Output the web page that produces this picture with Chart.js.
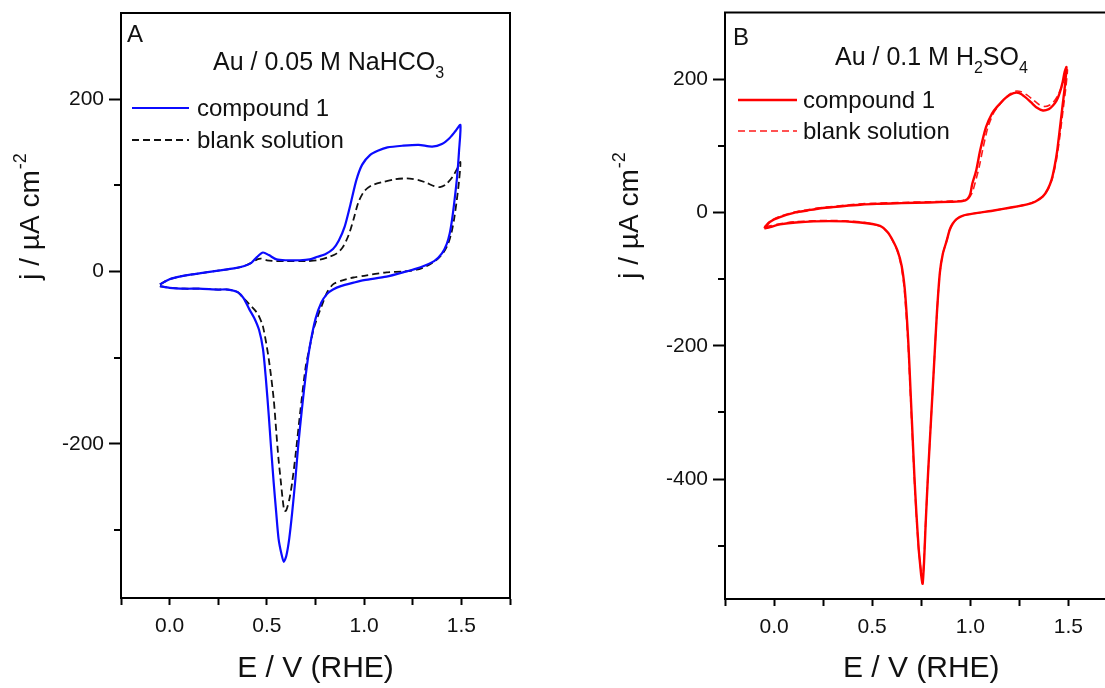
<!DOCTYPE html>
<html>
<head>
<meta charset="utf-8">
<title>Cyclic voltammograms of Au</title>
<script src="https://cdn.jsdelivr.net/npm/chart.js@4.4.1/dist/chart.umd.min.js"></script>
<style>
  html, body { margin: 0; padding: 0; background: #fff; overflow: hidden; width: 1105px; height: 688px; }
  canvas { position: absolute; top: 0; }
  #cvA { left: 0; }
  #cvB { left: 600px; }
</style>
</head>
<body>
<canvas id="cvA" width="530" height="688"></canvas>
<canvas id="cvB" width="540" height="688"></canvas>
<script>
// ---- axis ticks -------------------------------------------------------
const potentialTicks = [-0.25, 0, 0.25, 0.5, 0.75, 1, 1.25, 1.5, 1.75];
const potentialTickLabels = ['', '0.0', '', '0.5', '', '1.0', '', '1.5', ''];
const currentTicksA = [-300, -200, -100, 0, 100, 200];
const currentTickLabelsA = ['', '-200', '', '0', '', '200'];
const currentTicksB = [-500, -400, -300, -200, -100, 0, 100, 200];
const currentTickLabelsB = ['', '-400', '', '-200', '', '0', '', '200'];

const seriesNames = ['compound 1', 'blank solution'];

// ---- panel A: Au / 0.05 M NaHCO3 (E in V vs RHE, j in µA cm-2) --------
const potentialA1 = [
  -0.05, 0.0, 0.05, 0.1, 0.16, 0.25, 0.33, 0.38, 0.42, 0.45, 0.48, 0.51, 0.55, 0.6, 0.67, 0.72, 0.76, 0.8, 0.84,
  0.87, 0.9, 0.93, 0.96, 0.99, 1.03, 1.07, 1.12, 1.2, 1.28, 1.35, 1.4, 1.44, 1.47, 1.495,
  1.488, 1.478, 1.465, 1.452, 1.44, 1.425, 1.4, 1.36, 1.29, 1.2, 1.115, 1.0, 0.945, 0.88, 0.84, 0.81, 0.78, 0.75,
  0.72, 0.70, 0.68, 0.66, 0.647, 0.63, 0.615, 0.6, 0.587, 0.575, 0.56, 0.548, 0.535, 0.52, 0.51, 0.495,
  0.48, 0.46, 0.435, 0.41, 0.38, 0.35, 0.3, 0.25, 0.15, 0.077, 0.0, -0.05
];
const currentA1 = [
  -15, -9, -6, -4, -2, 1, 3.5, 6, 10, 17, 22, 19, 14, 13, 13, 14, 17, 20, 26,
  36, 52, 78, 106, 124, 135, 140, 144, 146, 147, 145, 148, 155, 163, 170,
  140, 110, 83, 60, 44, 32, 21, 12, 5, -1, -6, -10, -13, -17, -21, -26, -36, -55,
  -88, -120, -160, -205, -240, -280, -310, -330, -337, -328, -310, -280, -245, -200, -168, -125,
  -90, -68, -54, -44, -31, -24, -21, -21, -20, -20, -19, -17
];
const potentialA2 = [
  -0.05, 0.0, 0.05, 0.1, 0.16, 0.25, 0.33, 0.38, 0.42, 0.45, 0.47, 0.5, 0.55, 0.6, 0.7, 0.76, 0.82, 0.86,
  0.89, 0.92, 0.945, 0.97, 1.0, 1.04, 1.1, 1.16, 1.22, 1.28, 1.32, 1.36, 1.39, 1.42, 1.455, 1.48, 1.495,
  1.488, 1.476, 1.462, 1.448, 1.43, 1.405, 1.37, 1.32, 1.27, 1.2, 1.115, 1.0, 0.945, 0.88, 0.84, 0.81, 0.79, 0.765,
  0.74, 0.72, 0.70, 0.673, 0.647, 0.63, 0.615, 0.6, 0.59, 0.58, 0.57, 0.56, 0.548, 0.535, 0.51, 0.48,
  0.455, 0.435, 0.41, 0.38, 0.35, 0.3, 0.25, 0.15, 0.077, 0.0, -0.05
];
const currentA2 = [
  -15, -9, -6, -4, -2, 1, 3.5, 6, 10, 14, 15, 13, 12, 12, 12, 13, 17, 21,
  28, 42, 60, 80, 93, 100, 104, 107, 108, 106, 103, 99, 98, 101, 110, 120, 127,
  105, 82, 60, 44, 31, 21, 13, 6, 2, 0, -1, -5, -7, -11, -15, -24, -35, -50,
  -67, -88, -110, -160, -214, -245, -265, -277, -278, -262, -240, -218, -185, -148, -102, -64,
  -50, -44, -38, -31, -24, -21, -21, -20, -20, -19, -17
];

// ---- panel B: Au / 0.1 M H2SO4 ---------------------------------------
const potentialB1 = [
  -0.05, -0.02, 0.03, 0.11, 0.17, 0.23, 0.3, 0.37, 0.45, 0.54, 0.65, 0.79, 0.9, 0.96, 0.985, 1.0, 1.01,
  1.03, 1.05, 1.08, 1.11, 1.135, 1.18, 1.22, 1.25, 1.28, 1.31, 1.34, 1.37, 1.4, 1.42, 1.44, 1.455, 1.47,
  1.48, 1.49,
  1.482, 1.472, 1.462, 1.452, 1.443, 1.43, 1.415, 1.395, 1.37, 1.33, 1.29, 1.2, 1.12, 1.03, 0.96, 0.93, 0.91,
  0.895, 0.88, 0.86, 0.845, 0.83, 0.815, 0.80, 0.785, 0.772, 0.765, 0.757, 0.75, 0.745, 0.737, 0.725,
  0.715, 0.705, 0.695, 0.685, 0.675, 0.665, 0.65, 0.63, 0.605, 0.58, 0.54, 0.44, 0.28, 0.11, 0.03, -0.02, -0.05
];
const currentB1 = [
  -24, -14, -7, 0, 3, 6, 8, 10, 12, 13, 14, 15, 16, 17, 20, 28, 43,
  63, 93, 128, 148, 158, 172, 179, 179, 173, 165, 157, 153, 155, 160, 168, 179, 195,
  210, 218,
  190, 165, 140, 115, 93, 70, 50, 35, 24, 16, 12, 7, 3, -1, -5, -10, -17,
  -26, -42, -62, -90, -150, -230, -310, -390, -470, -520, -557, -545, -530, -505, -450,
  -395, -330, -265, -200, -150, -112, -80, -58, -42, -30, -20, -15, -13, -15, -18, -22, -24
];
const potentialB2 = [
  -0.05, -0.02, 0.03, 0.11, 0.17, 0.23, 0.3, 0.37, 0.45, 0.54, 0.65, 0.79, 0.9, 0.96, 0.99, 1.01, 1.025,
  1.045, 1.065, 1.09, 1.12, 1.15, 1.19, 1.23, 1.26, 1.29, 1.32, 1.35, 1.38, 1.41, 1.43, 1.45, 1.47,
  1.485, 1.495,
  1.487, 1.477, 1.467, 1.457, 1.447, 1.434, 1.418, 1.398, 1.373, 1.333, 1.29, 1.2, 1.12, 1.03, 0.96, 0.93, 0.91,
  0.895, 0.88, 0.86, 0.845, 0.83, 0.815, 0.80, 0.785, 0.772, 0.765, 0.757, 0.75, 0.744, 0.735, 0.723,
  0.713, 0.703, 0.693, 0.683, 0.672, 0.662, 0.647, 0.627, 0.602, 0.577, 0.535, 0.44, 0.28, 0.11, 0.03, -0.02, -0.05
];
const currentB2 = [
  -22, -13, -6, 1, 4, 7, 9, 11, 13, 14, 15, 16, 17, 18, 21, 30, 45,
  68, 97, 128, 150, 162, 175, 182, 181, 176, 169, 162, 159, 162, 168, 178, 192,
  205, 214,
  188, 164, 140, 116, 94, 71, 51, 36, 25, 17, 12, 7, 3, -1, -5, -10, -17,
  -26, -42, -62, -90, -150, -230, -310, -390, -468, -515, -550, -540, -526, -500, -445,
  -390, -325, -262, -198, -148, -110, -79, -57, -41, -29, -20, -14, -12, -14, -17, -20, -22
];

// ---- helpers ----------------------------------------------------------
const toPoints = (xs, ys) => xs.map((x, i) => ({ x, y: ys[i] }));
const FONT = "'Liberation Sans', Arial, Helvetica, sans-serif";

// draws the frame, minor y ticks, legend, panel labels and the y-axis title
const panelDecor = {
  id: 'panelDecor',
  afterDraw(chart, args, o) {
    const { ctx, chartArea: a } = chart;
    const yScale = chart.scales.y;
    ctx.save();
    ctx.strokeStyle = '#000';
    ctx.lineWidth = 2;
    ctx.lineCap = 'square';
    ctx.beginPath();
    ctx.moveTo(a.left, a.top);
    ctx.lineTo(a.right, a.top);
    ctx.lineTo(a.right, a.bottom);
    ctx.stroke();

    // short (unlabelled) ticks on the current axis
    ctx.lineCap = 'butt';
    o.yTicks.forEach((v, i) => {
      if (o.yLabels[i] !== '') return;
      const py = Math.round(yScale.getPixelForValue(v));
      ctx.beginPath();
      ctx.moveTo(a.left - 7, py);
      ctx.lineTo(a.left, py);
      ctx.stroke();
    });

    ctx.fillStyle = '#111';
    ctx.textAlign = 'left';
    ctx.textBaseline = 'alphabetic';

    // panel letter
    ctx.font = `24px ${FONT}`;
    ctx.fillText(o.letter, o.letterX, o.letterY);

    // electrolyte note, with subscripts
    let cx = o.noteX;
    o.note.forEach(part => {
      const sub = part.sub === true;
      ctx.font = sub ? `16px ${FONT}` : `25px ${FONT}`;
      ctx.fillText(part.t, cx, o.noteY + (sub ? 8 : 0));
      cx += ctx.measureText(part.t).width;
    });

    // legend
    ctx.font = `24px ${FONT}`;
    chart.data.datasets.forEach((ds, i) => {
      const ly = o.legendY[i];
      ctx.save();
      ctx.strokeStyle = ds.borderColor;
      ctx.lineWidth = ds.borderWidth;
      ctx.setLineDash(ds.borderDash || []);
      ctx.beginPath();
      ctx.moveTo(o.legendX0, ly);
      ctx.lineTo(o.legendX1, ly);
      ctx.stroke();
      ctx.restore();
      ctx.fillText(ds.label, o.legendTextX, ly + 8);
    });

    // y-axis title: j / µA cm^-2
    ctx.translate(o.yTitleX, o.yTitleY);
    ctx.rotate(-Math.PI / 2);
    ctx.font = `28px ${FONT}`;
    const main = 'j / \u00b5A cm';
    const wMain = ctx.measureText(main).width;
    ctx.font = `18px ${FONT}`;
    const sup = '-2';
    const wSup = ctx.measureText(sup).width;
    const start = -(wMain + wSup) / 2;
    ctx.font = `28px ${FONT}`;
    ctx.fillText(main, start, 0);
    ctx.font = `18px ${FONT}`;
    ctx.fillText(sup, start + wMain + 1, -13);
    ctx.restore();
  }
};

function makePanel(canvasId, cfg) {
  const ticksOf = (vals) => (scale) => { scale.ticks = vals.map(v => ({ value: v })); };
  return new Chart(document.getElementById(canvasId), {
    type: 'scatter',
    data: {
      datasets: cfg.series.map(s => ({
        label: s.name,
        data: s.data,
        showLine: true,
        borderColor: s.color,
        backgroundColor: s.color,
        borderWidth: s.width,
        borderDash: s.dash,
        pointRadius: 0,
        pointHoverRadius: 0,
        tension: 0.25,
        fill: false
      }))
    },
    options: {
      responsive: false,
      animation: false,
      events: [],
      layout: { padding: cfg.padding },
      plugins: {
        legend: { display: false },
        tooltip: { enabled: false },
        panelDecor: cfg.decor
      },
      scales: {
        x: {
          type: 'linear',
          min: -0.25, max: 1.75,
          afterBuildTicks: ticksOf(potentialTicks),
          afterFit: (s) => { s.height = cfg.xHeight; s.paddingLeft = 0; s.paddingRight = 0; },
          border: { display: true, color: '#000', width: 2 },
          grid: { display: true, drawOnChartArea: false, drawTicks: true, tickLength: 7, tickColor: '#000', tickWidth: 2 },
          ticks: {
            autoSkip: false, maxRotation: 0, padding: 9, color: '#111',
            font: { family: FONT, size: 21 },
            callback: (v, i) => potentialTickLabels[i]
          },
          title: {
            display: true, text: 'E / V (RHE)', color: '#111',
            font: { family: FONT, size: 30 }, padding: { top: 0, bottom: 1 }
          }
        },
        y: {
          type: 'linear',
          min: cfg.yMin, max: cfg.yMax,
          afterBuildTicks: ticksOf(cfg.yTicks),
          afterFit: (s) => { s.width = cfg.yWidth; s.paddingTop = 0; s.paddingBottom = 0; },
          border: { display: true, color: '#000', width: 2 },
          grid: {
            display: true, drawOnChartArea: false, drawTicks: true, tickLength: 12, tickWidth: 2,
            tickColor: (c) => (cfg.yLabels[c.index] === '' ? 'rgba(0,0,0,0)' : '#000')
          },
          ticks: {
            autoSkip: false, padding: 5, color: '#111',
            font: { family: FONT, size: 21 },
            callback: (v, i) => cfg.yLabels[i]
          }
        }
      }
    },
    plugins: [panelDecor]
  });
}

makePanel('cvA', {
  padding: { left: 0, top: 13, right: 20, bottom: 0 },
  xHeight: 90, yWidth: 121,
  yMin: -379, yMax: 300,
  yTicks: currentTicksA, yLabels: currentTickLabelsA,
  series: [
    { name: seriesNames[0], data: toPoints(potentialA1, currentA1), color: '#0b0bff', width: 2.2, dash: [] },
    { name: seriesNames[1], data: toPoints(potentialA2, currentA2), color: '#111111', width: 1.8, dash: [7, 4] }
  ],
  decor: {
    yTicks: currentTicksA, yLabels: currentTickLabelsA,
    letter: 'A', letterX: 127, letterY: 42,
    note: [{ t: 'Au / 0.05 M NaHCO' }, { t: '3', sub: true }], noteX: 213, noteY: 70,
    legendX0: 132, legendX1: 189, legendTextX: 197, legendY: [108, 140],
    yTitleX: 39, yTitleY: 217
  }
});

makePanel('cvB', {
  padding: { left: 0, top: 12.5, right: 22.5, bottom: 0 },
  xHeight: 89, yWidth: 125,
  yMin: -580, yMax: 300,
  yTicks: currentTicksB, yLabels: currentTickLabelsB,
  series: [
    { name: seriesNames[0], data: toPoints(potentialB1, currentB1), color: '#ff0000', width: 2.4, dash: [] },
    { name: seriesNames[1], data: toPoints(potentialB2, currentB2), color: '#ff1a1a', width: 1.6, dash: [7, 4] }
  ],
  decor: {
    yTicks: currentTicksB, yLabels: currentTickLabelsB,
    letter: 'B', letterX: 133, letterY: 45,
    note: [{ t: 'Au / 0.1 M H' }, { t: '2', sub: true }, { t: 'SO' }, { t: '4', sub: true }], noteX: 235, noteY: 65,
    legendX0: 138, legendX1: 197, legendTextX: 203, legendY: [100, 131],
    yTitleX: 38, yTitleY: 216
  }
});
</script>
</body>
</html>
